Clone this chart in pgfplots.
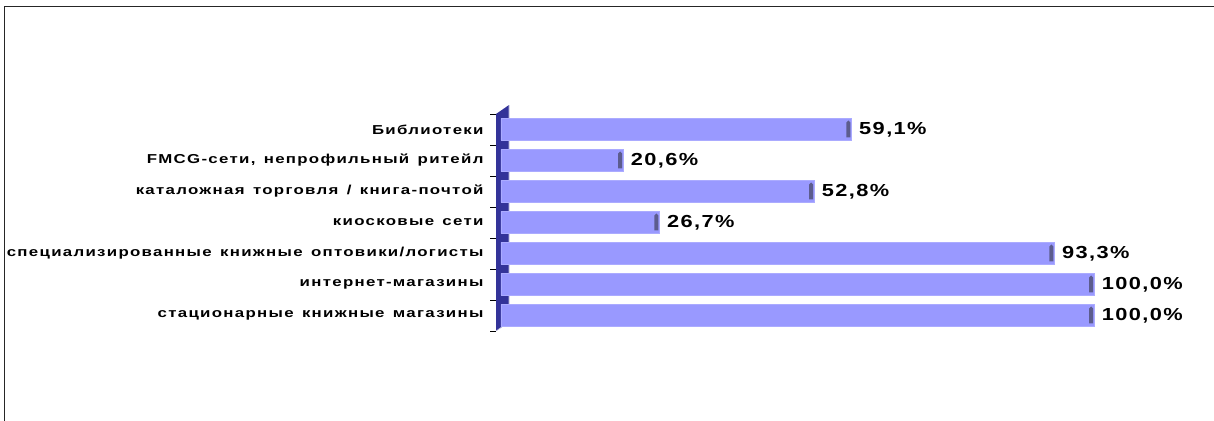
\documentclass[border=0pt]{standalone}
\usepackage{fontspec}
\setmainfont{Liberation Sans}[LetterSpace=10, FakeStretch=1.3, WordSpace=1.4]
\newfontfamily\valfont{Liberation Sans}[LetterSpace=8, FakeStretch=1.25]
\usepackage{pgfplots}
\pgfplotsset{compat=1.18}
\usepackage{pgfplotstable}

\definecolor{barfill}{HTML}{9999FF}
\definecolor{baredge}{HTML}{ABABFF}
\definecolor{capcol}{HTML}{5C5C8E}
\definecolor{wallcol}{HTML}{333399}

\pgfdeclareplotmark{cap}{%
  \pgfpathmoveto{\pgfqpoint{-5bp}{-8bp}}%
  \pgfpathlineto{\pgfqpoint{-1bp}{-8bp}}%
  \pgfpathlineto{\pgfqpoint{-1bp}{7bp}}%
  \pgfpathlineto{\pgfqpoint{-3bp}{9bp}}%
  \pgfpathlineto{\pgfqpoint{-5bp}{7bp}}%
  \pgfpathclose\pgfusepath{fill}}

% y = position from bottom, share in %
\pgfplotstableread{
y share
0 100.0
1 100.0
2 93.3
3 26.7
4 52.8
5 20.6
6 59.1
}\shares

\begin{document}
\begin{tikzpicture}
\useasboundingbox (0,0) rectangle (1214bp,421bp);
\draw[line width=1.8bp, black!85] (4.5bp,0) -- (4.5bp,414.5bp) -- (1214bp,414.5bp);
\begin{axis}[
    at={(496bp,90bp)}, anchor=south west,
    scale only axis,
    x=5.93bp, y=31bp,
    xmin=-0.843, xmax=100,
    ymin=-0.5, ymax=6.5,
    axis x line=none,
    axis y line*=left,
    y axis line style={line width=0.9bp},
    ytick={0,...,6},
    yticklabels={стационарные книжные магазины, интернет-магазины,
      специализированные книжные оптовики/логисты, киосковые сети,
      каталожная торговля / книга-почтой, {FMCG-сети, непрофильный ритейл},
      Библиотеки},
    major tick length=0pt,
    minor ytick={-0.5,0.5,...,6.5},
    minor tick length=5.5bp,
    tick align=outside,
    minor tick style={line width=0.9bp, black},
    yticklabel style={font=\fontsize{13}{15}\selectfont\bfseries, xshift=-9bp},
    clip=false,
]
% back wall (3D effect)
\fill[wallcol] (axis cs:-0.843,-0.5) -- (axis cs:-0.843,6.5) -- (axis cs:1.35,6.79)
   -- (axis cs:1.35,-0.21) -- cycle;
\draw[white!70!wallcol, line width=0.6bp] (axis cs:1.35,6.79) -- (axis cs:1.35,-0.21) -- (axis cs:-0.843,-0.5);
\addplot[xbar, bar width=22bp, fill=barfill, draw=baredge, line width=0.9bp,
    nodes near coords={\pgfmathprintnumber[fixed,fixed zerofill,precision=1,use comma,assume math mode=true]{\pgfplotspointmeta}\%},
    nodes near coords style={font=\valfont\fontsize{17.5}{19}\selectfont\bfseries, anchor=west, xshift=4bp, black},
    point meta=x]
  table[x=share, y=y] {\shares};
\addplot[only marks, mark=cap, capcol] table[x=share, y=y] {\shares};
\end{axis}
\end{tikzpicture}
\end{document}
